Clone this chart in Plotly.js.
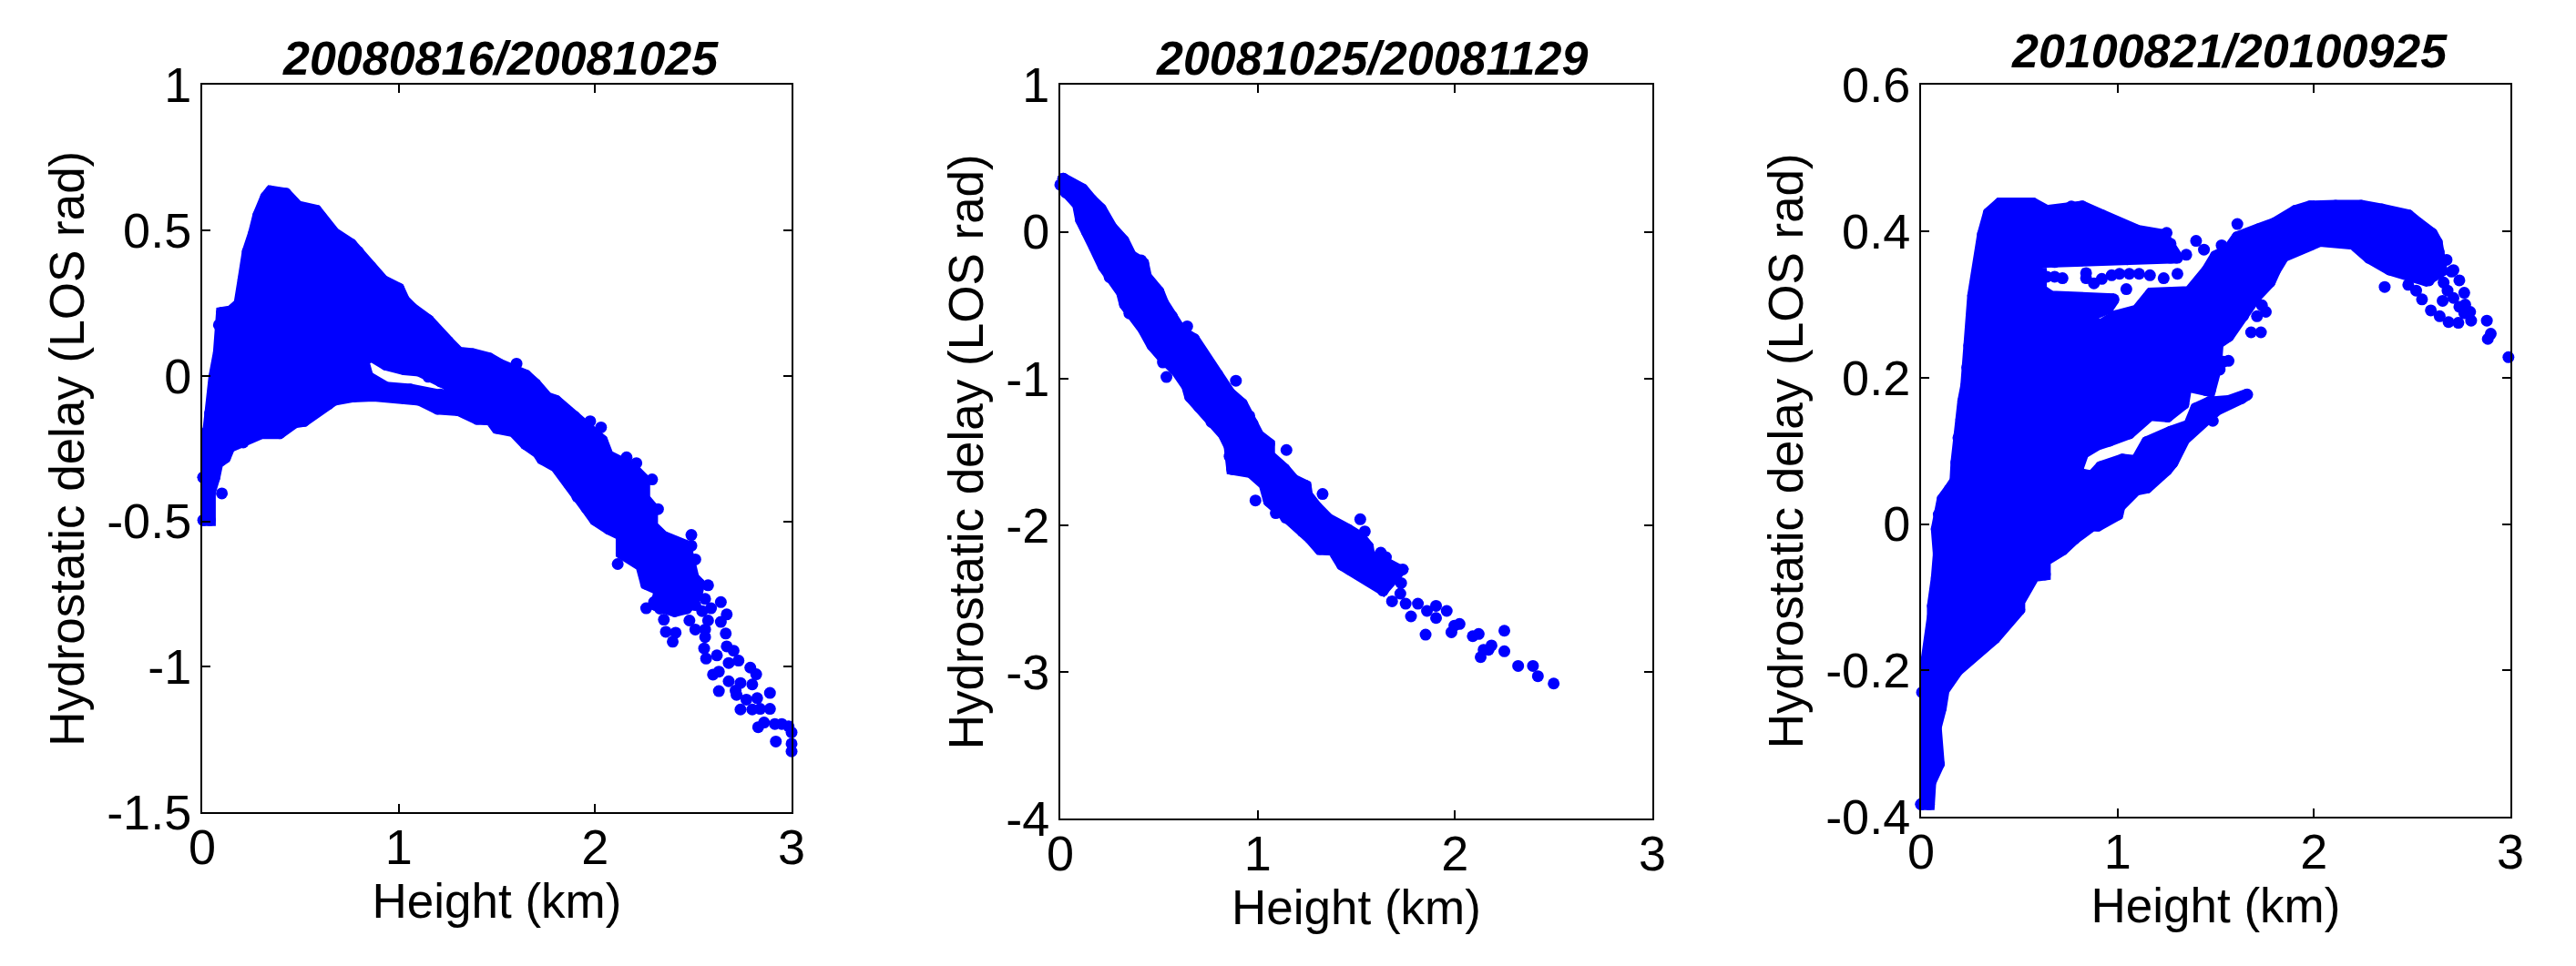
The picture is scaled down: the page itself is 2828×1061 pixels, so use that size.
<!DOCTYPE html>
<html><head><meta charset="utf-8">
<script src="https://cdn.plot.ly/plotly-3.0.1.min.js"></script>
<style>html,body{margin:0;padding:0;background:#fff}</style></head>
<body><div id="chart" style="width:2828px;height:1061px"></div>
<script>
// ---------- Panel 1: 20080816/20081025 ----------
const p1MainX=[.005,.025,.04,.062,.085,.085,.10,.147,.19,.21,.232,.263,.286,.325,.348,.425,.487,.58,.603,.672,.757,.793,.858,.92,1.0,1.028,1.066,1.151,1.252,1.306,1.376,1.46,1.515,1.646,1.695,1.755,1.80,1.895,2.035,2.065,2.19,2.25,2.25,2.29,2.29,2.345,2.46,2.48,2.50,2.53,2.515,2.465,2.405,2.31,2.33,2.26,2.235,2.135,2.135,2.07,2.0,1.955,1.91,1.865,1.80,1.73,1.71,1.646,1.584,1.50,1.468,1.40,1.306,1.25,1.213,1.151,1.105,1.028,.935,.858,.82,.842,.80,.765,.672,.64,.518,.47,.394,.30,.209,.139,.116,.077,.062,.039,.039,.005];
const p1MainY=[-.349,-.192,-.129,-.003,.081,.175,.217,.222,.248,.332,.427,.49,.552,.615,.634,.626,.582,.568,.547,.49,.453,.427,.374,.327,.30,.259,.233,.191,.117,.08,.075,.06,.039,.002,-.028,-.075,-.086,-.14,-.222,-.275,-.317,-.358,-.421,-.453,-.516,-.552,-.584,-.636,-.694,-.715,-.757,-.799,-.809,-.788,-.736,-.715,-.652,-.61,-.547,-.526,-.495,-.453,-.416,-.369,-.311,-.285,-.264,-.234,-.19,-.179,-.15,-.148,-.118,-.03,-.019,-.003,.018,.023,.039,.07,.05,-.003,-.02,-.071,-.082,-.097,-.155,-.16,-.197,-.197,-.229,-.244,-.281,-.30,-.349,-.40,-.496,-.496];
const p1BandX=[.842,.935,1.059,1.213,1.306,1.306,1.198,1.105,1.028,.873,.765];
const p1BandY=[-.003,-.04,-.047,-.064,-.08,-.118,-.113,-.082,-.077,-.068,-.071];
const p1DotsX=[.10,1.60,1.975,2.03,2.16,2.21,2.29,2.32,2.49,2.49,2.51,2.575,2.115,2.26,2.30,2.33,2.35,2.36,2.41,2.395,2.64,2.67,2.665,2.56,2.555,2.565,2.62,2.67,2.705,2.73,2.68,2.79,2.82,2.80,2.60,2.63,2.63,2.68,2.74,2.715,2.72,2.77,2.825,2.89,2.89,2.74,2.80,2.84,2.83,2.86,2.915,2.92,2.95,2.985,3.0,3.0,3.0,2.51,2.56,2.59,2.575,2.48,2.51,2.56,2.545,2.64];
const p1DotsY=[-.404,.042,-.156,-.177,-.28,-.30,-.356,-.458,-.547,-.584,-.631,-.72,-.647,-.799,-.778,-.80,-.838,-.88,-.883,-.914,-.778,-.82,-.886,-.898,-.937,-.972,-.961,-.93,-.945,-.979,-.987,-1.003,-1.026,-1.061,-1.027,-1.017,-1.084,-1.05,-1.056,-1.082,-1.097,-1.113,-1.108,-1.09,-1.145,-1.147,-1.147,-1.145,-1.208,-1.192,-1.197,-1.257,-1.197,-1.205,-1.226,-1.265,-1.291,-.788,-.767,-.799,-.841,-.841,-.872,-.872,-.809,-.846];

// ---------- Panel 2: 20081025/20081129 ----------
const p2MainX=[.015,.058,.112,.158,.205,.258,.32,.358,.41,.42,.435,.497,.52,.566,.612,.677,.72,.743,.797,.858,.92,.958,.974,1.004,1.058,1.058,1.135,1.181,1.243,1.25,1.297,1.358,1.458,1.52,1.558,1.566,1.65,1.72,1.635,1.558,1.466,1.428,1.381,1.315,1.266,1.228,1.143,1.058,1.035,.966,.871,.858,.828,.766,.705,.658,.643,.59,.52,.466,.42,.35,.328,.312,.25,.22,.173,.135,.105,.09,.028,0];
const p2MainY=[.361,.32,.289,.216,.155,.031,-.062,-.165,-.196,-.216,-.309,-.408,-.485,-.577,-.68,-.732,-.825,-.887,-.976,-1.101,-1.173,-1.256,-1.308,-1.39,-1.446,-1.525,-1.618,-1.691,-1.732,-1.794,-1.877,-1.96,-2.032,-2.084,-2.146,-2.208,-2.26,-2.31,-2.44,-2.374,-2.30,-2.27,-2.167,-2.163,-2.088,-2.043,-1.95,-1.836,-1.722,-1.639,-1.618,-1.463,-1.38,-1.297,-1.196,-1.124,-1.052,-.948,-.856,-.773,-.66,-.557,-.495,-.412,-.309,-.237,-.103,0,.082,.186,.268,.32];
const p2DotsX=[.643,.52,.538,.89,1.146,.858,.989,1.092,1.329,1.52,1.543,1.624,1.65,1.735,1.727,1.723,1.681,1.75,1.812,1.777,1.858,1.904,1.958,1.904,1.851,1.982,1.997,2.023,2.09,2.12,2.13,2.145,2.17,2.185,2.25,2.25,2.32,2.395,2.42,2.50,1.635,1.558,1.62,1.70,1.60,1.66];
const p2DotsY=[-.645,-.891,-.99,-1.016,-1.488,-1.531,-1.832,-1.918,-1.788,-1.96,-2.043,-2.188,-2.219,-2.302,-2.395,-2.467,-2.519,-2.536,-2.536,-2.622,-2.585,-2.55,-2.585,-2.633,-2.747,-2.73,-2.685,-2.674,-2.757,-2.742,-2.90,-2.85,-2.85,-2.82,-2.72,-2.86,-2.96,-2.96,-3.03,-3.08,-2.446,-2.374,-2.30,-2.34,-2.35,-2.38];

// ---------- Panel 3: 20100821/20100925 ----------
const p3WedgeX=[0,.005,.06,.06,.08,.09,.08,.09,.11,.145,.175,.18,.19,.205,.215,.23,.235,.245,.265,.315,.345,.40,.57,.64,.765,.82,.92,.98,1.10,1.23,1.305,1.27,1.05,.85,.815,.68,.61,.61,.66,.98,.95,.82,.78,.78,.72,.63,.63,.575,.50,.50,.375,.185,.115,.10,.075,.09,.047,.04];
const p3WedgeY=[-.383,-.23,-.126,-.112,-.074,-.041,-.007,.013,.034,.047,.059,.084,.118,.143,.168,.189,.214,.244,.312,.396,.425,.438,.438,.428,.434,.434,.422,.414,.401,.395,.364,.364,.362,.362,.362,.358,.358,.32,.311,.307,.295,.28,.07,-.02,-.035,-.05,-.069,-.071,-.106,-.117,-.156,-.2,-.227,-.252,-.278,-.328,-.353,-.383];
const p3HumpX=[.82,.915,.99,1.10,1.17,1.365,1.455,1.50,1.565,1.61,1.72,1.80,1.905,1.98,2.11,2.24,2.345,2.48,2.53,2.60,2.625,2.635,2.65,2.57,2.48,2.385,2.28,2.20,2.03,1.95,1.845,1.80,1.775,1.705,1.64,1.565,1.51,1.50,1.47,1.45,1.35,1.335,1.255,1.165,1.06,.96,.90,.825,.80,.72];
const p3HumpY=[.28,.272,.284,.292,.315,.317,.346,.366,.375,.392,.403,.411,.428,.434,.435,.435,.43,.422,.411,.397,.385,.372,.346,.333,.342,.348,.364,.383,.387,.379,.366,.346,.331,.311,.285,.257,.247,.212,.182,.183,.189,.164,.147,.149,.124,.114,.109,.097,.078,.08];
const p3FingerX=[.78,.87,.915,1.025,1.095,1.15,1.27,1.365,1.40,1.465,1.565,1.66,1.63,1.505,1.34,1.28,1.25,1.15,1.095,1.01,1.00,.90,.87,.78];
const p3FingerY=[.07,.065,.078,.088,.086,.112,.126,.135,.158,.166,.168,.177,.172,.156,.116,.084,.074,.05,.047,.024,.013,-.002,-.002,-.02];
const p3DotsX=[1.25,1.27,1.40,1.44,1.35,1.53,1.61,.64,.68,.72,.84,.84,.88,.92,.97,1.01,1.06,1.11,1.165,1.235,1.305,1.045,2.36,2.48,2.52,2.55,2.595,2.64,2.685,2.735,2.80,2.88,2.90,2.885,2.99,2.655,2.71,2.74,2.765,2.68,2.585,2.66,2.70,2.675,2.71,2.74,2.765,2.77,2.795,2.62,2.63,1.71,1.755,1.735,1.73,1.68,1.565,1.52,1.54,1.505,1.485,.08,.06,.075];
const p3DotsY=[.398,.383,.387,.375,.368,.381,.41,.338,.338,.336,.343,.336,.329,.335,.34,.342,.342,.342,.34,.336,.342,.321,.324,.327,.319,.307,.292,.284,.276,.275,.278,.278,.26,.253,.228,.305,.309,.297,.288,.319,.333,.33,.345,.361,.347,.333,.316,.30,.29,.36,.345,.284,.29,.299,.262,.262,.223,.211,.222,.212,.141,-.328,-.337,-.299];

// ---------- Axis tick labels and texts ----------
const xTicks=[0,1,2,3], xTickText=['0','1','2','3'];
const y1Ticks=[1,.5,0,-.5,-1,-1.5], y1Text=['1','0.5','0','-0.5','-1','-1.5'];
const y2Ticks=[1,0,-1,-2,-3,-4], y2Text=['1','0','-1','-2','-3','-4'];
const y3Ticks=[.6,.4,.2,0,-.2,-.4], y3Text=['0.6','0.4','0.2','0','-0.2','-0.4'];
const titles=['20080816/20081025','20081025/20081129','20100821/20100925'];
const xLabel='Height (km)', yLabel='Hydrostatic delay (LOS rad)';

const W=2828,H=1061,BLUE='#0000ff',DOT=13;
const blob=(xs,ys,ax)=>({type:'scatter',mode:'lines+markers',x:xs.concat(xs[0]),y:ys.concat(ys[0]),
  xaxis:'x'+ax,yaxis:'y'+ax,fill:'toself',fillcolor:BLUE,cliponaxis:false,hoverinfo:'skip',
  line:{color:BLUE,width:DOT},marker:{color:BLUE,size:DOT}});
const dots=(xs,ys,ax)=>({type:'scatter',mode:'markers',x:xs,y:ys,xaxis:'x'+ax,yaxis:'y'+ax,
  cliponaxis:false,hoverinfo:'skip',marker:{color:BLUE,size:DOT}});
const data=[blob(p1MainX,p1MainY,''),blob(p1BandX,p1BandY,''),dots(p1DotsX,p1DotsY,''),
  blob(p2MainX,p2MainY,'2'),dots(p2DotsX,p2DotsY,'2'),
  blob(p3WedgeX,p3WedgeY,'3'),blob(p3HumpX,p3HumpY,'3'),blob(p3FingerX,p3FingerY,'3'),dots(p3DotsX,p3DotsY,'3')];

const FONT='"Liberation Sans",Arial,sans-serif';
const base={showgrid:false,zeroline:false,showline:true,mirror:'ticks',linecolor:'#000',linewidth:2,
  ticks:'inside',ticklen:9,tickwidth:2,tickcolor:'#000',tickfont:{family:FONT,size:54,color:'#000'}};
const xAxis=(l,r,anchor,st)=>({...base,domain:[l/W,r/W],range:[0,3],tickmode:'array',tickvals:xTicks,ticktext:xTickText,anchor,ticklabelstandoff:-10,
  title:{text:xLabel,font:{family:FONT,size:53,color:'#000'},standoff:st}});
const yAxis=(t,b,r,vals,txt,anchor,st)=>({...base,domain:[1-b/H,1-t/H],range:r,tickmode:'array',tickvals:vals,ticktext:txt,anchor,ticklabelstandoff:-1,
  title:{text:yLabel,font:{family:FONT,size:53,color:'#000'},standoff:st}});
const titleAnn=(txt,xc,yc)=>({text:txt,xref:'paper',yref:'paper',x:xc/W,y:1-yc/H,xanchor:'center',yanchor:'middle',showarrow:false,
  font:{family:FONT,size:52,color:'#000',weight:'bold',style:'italic'}});

const layout={width:W,height:H,margin:{l:0,r:0,t:0,b:0},paper_bgcolor:'#fff',plot_bgcolor:'#fff',showlegend:false,
  xaxis:xAxis(222,869,'y',10),yaxis:yAxis(93.4,892,[-1.5,1],y1Ticks,y1Text,'x',8),
  xaxis2:xAxis(1164,1814,'y2',10),yaxis2:yAxis(93.4,899,[-4,1],y2Ticks,y2Text,'x2',8),
  xaxis3:xAxis(2109,2756,'y3',10),yaxis3:yAxis(93.4,897,[-.4,.6],y3Ticks,y3Text,'x3',8),
  annotations:[titleAnn(titles[0],549,64),titleAnn(titles[1],1506,64),titleAnn(titles[2],2447,56)]};
Plotly.newPlot('chart',data,layout,{displayModeBar:false,staticPlot:true});
</script></body></html>
